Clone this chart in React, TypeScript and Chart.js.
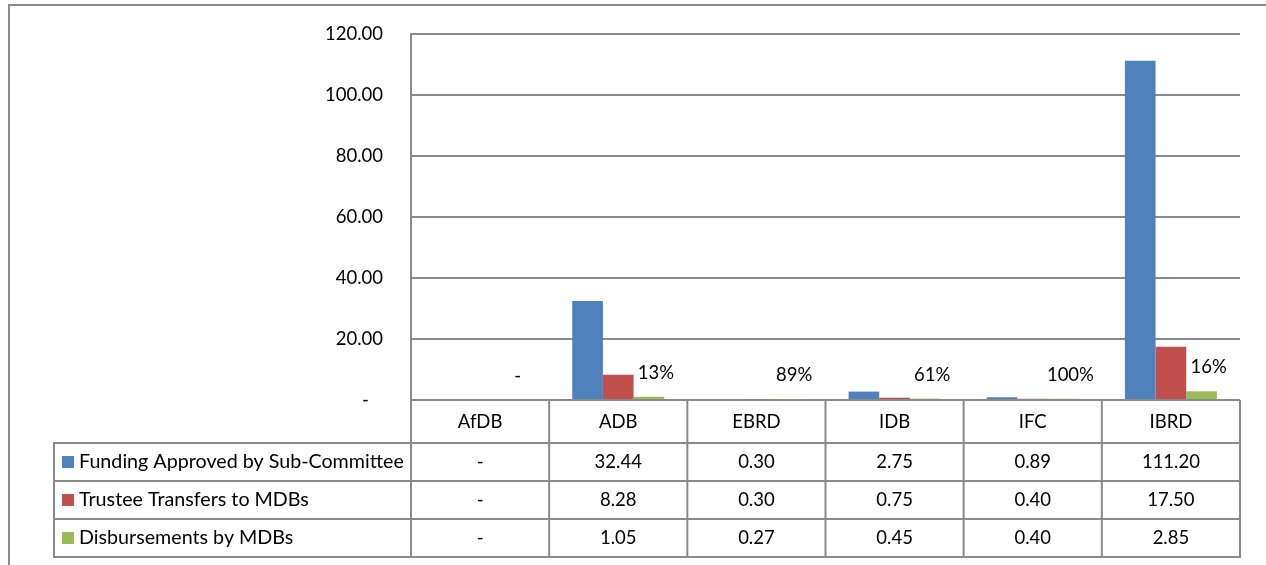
import React, { useEffect, useRef } from "react";
import { Chart, registerables } from "chart.js";

Chart.register(...registerables);

const categories = ["AfDB", "ADB", "EBRD", "IDB", "IFC", "IBRD"];
const seriesNames = [
  "Funding Approved by Sub-Committee",
  "Trustee Transfers to MDBs",
  "Disbursements by MDBs",
];
const fundingApproved = [0, 32.44, 0.3, 2.75, 0.89, 111.2];
const trusteeTransfers = [0, 8.28, 0.3, 0.75, 0.4, 17.5];
const disbursements = [0, 1.05, 0.27, 0.45, 0.4, 2.85];
const disbursementLabels = ["-", "13%", "89%", "61%", "100%", "16%"];
const yMin = 0;
const yMax = 120;
const yStep = 20;

const COLORS = ["#4F81BD", "#C0504D", "#9BBB59"];
const LINE = "#8a8a8a";
const FONT_FAMILY = "Lato, 'Open Sans', sans-serif";
const FONT_SIZE = 18.5;
const NAME_FONT_SIZE = 19.7;

const fmt = (v: number) => (v === 0 ? "-" : v.toFixed(2));

const tablePlugin = {
  id: "dataTable",
  afterDraw(chart: any) {
    const { ctx, chartArea: ca, scales } = chart;
    const x = scales.x;
    const top = ca.bottom;
    const headerH = 43;
    const rowH = 38;
    const legendLeft = 54;
    const rows = [top, top + headerH, top + headerH + rowH, top + headerH + 2 * rowH, top + headerH + 3 * rowH];
    const bottom = rows[4];
    const half = (x.getPixelForValue(1) - x.getPixelForValue(0)) / 2;

    ctx.save();
    ctx.strokeStyle = LINE;
    ctx.lineWidth = 2;
    ctx.beginPath();
    for (let i = 1; i < rows.length; i++) {
      ctx.moveTo(legendLeft - 1, rows[i]);
      ctx.lineTo(ca.right + 1, rows[i]);
    }
    for (let i = 0; i <= categories.length; i++) {
      const b = i < categories.length ? x.getPixelForValue(i) - half : x.getPixelForValue(categories.length - 1) + half;
      ctx.moveTo(b, top);
      ctx.lineTo(b, bottom + 1);
    }
    ctx.moveTo(legendLeft, rows[1]);
    ctx.lineTo(legendLeft, bottom + 1);
    ctx.stroke();

    ctx.fillStyle = "#000";
    ctx.font = `${FONT_SIZE}px ${FONT_FAMILY}`;
    ctx.textBaseline = "middle";
    ctx.textAlign = "center";
    categories.forEach((c, i) => {
      ctx.fillText(c, x.getPixelForValue(i), (rows[0] + rows[1]) / 2 + 1);
    });
    const series = [fundingApproved, trusteeTransfers, disbursements];
    series.forEach((s, r) => {
      const cy = (rows[r + 1] + rows[r + 2]) / 2;
      s.forEach((v, i) => {
        ctx.fillText(fmt(v), x.getPixelForValue(i), cy);
      });
    });
    ctx.textAlign = "left";
    ctx.font = `${NAME_FONT_SIZE}px ${FONT_FAMILY}`;
    seriesNames.forEach((n, r) => {
      const cy = (rows[r + 1] + rows[r + 2]) / 2;
      ctx.fillStyle = COLORS[r];
      ctx.fillRect(legendLeft + 8, cy - 6, 12, 12);
      ctx.fillStyle = "#000";
      ctx.fillText(n, legendLeft + 25, cy);
    });
    ctx.restore();
  },
};

const labelPlugin = {
  id: "pctLabels",
  afterDatasetsDraw(chart: any) {
    const { ctx } = chart;
    const meta = chart.getDatasetMeta(2);
    ctx.save();
    ctx.fillStyle = "#000";
    ctx.font = `${FONT_SIZE}px ${FONT_FAMILY}`;
    ctx.textAlign = "center";
    ctx.textBaseline = "middle";
    meta.data.forEach((el: any, i: number) => {
      ctx.fillText(disbursementLabels[i], el.x + 7, el.y - 24);
    });
    ctx.restore();
  },
};

export default function App() {
  const ref = useRef<HTMLCanvasElement | null>(null);
  useEffect(() => {
    if (!ref.current) return;
    const chart = new Chart(ref.current, {
      type: "bar",
      data: {
        labels: categories,
        datasets: [
          { label: seriesNames[0], data: fundingApproved, backgroundColor: COLORS[0] },
          { label: seriesNames[1], data: trusteeTransfers, backgroundColor: COLORS[1] },
          { label: seriesNames[2], data: disbursements, backgroundColor: COLORS[2] },
        ],
      },
      options: {
        animation: false,
        responsive: false,
        maintainAspectRatio: false,
        layout: { padding: { top: 34, right: 26, left: 0, bottom: 0 } },
        datasets: { bar: { categoryPercentage: 0.666, barPercentage: 1 } } as any,
        plugins: { legend: { display: false }, tooltip: { enabled: false } },
        scales: {
          x: {
            type: "category",
            grid: { display: false },
            border: { display: false },
            ticks: { display: false },
            afterFit: (s: any) => {
              s.height = 165;
            },
          },
          y: {
            min: yMin,
            max: yMax,
            ticks: {
              stepSize: yStep,
              padding: 28,
              color: "#000",
              font: { family: FONT_FAMILY, size: FONT_SIZE },
              callback: (v: any) => (Number(v) === 0 ? "-   " : Number(v).toFixed(2)),
            },
            grid: { color: LINE, lineWidth: 2, drawTicks: false },
            border: { display: true, color: LINE, width: 2 },
            afterFit: (s: any) => {
              s.width = 411;
              s.paddingTop = 0;
              s.paddingBottom = 0;
            },
          },
        },
      },
      plugins: [tablePlugin, labelPlugin],
    });
    return () => chart.destroy();
  }, []);

  return (
    <div style={{ position: "fixed", left: 0, top: 0, width: 1266, height: 565, overflow: "hidden", background: "#fff" }}>
      <div
        style={{
          position: "absolute",
          left: 8,
          top: 4,
          width: 1400,
          height: 700,
          border: "2px solid #8a8a8a",
        }}
      />
      <canvas ref={ref} width={1266} height={565} style={{ position: "absolute", left: 0, top: 0 }} />
    </div>
  );
}
